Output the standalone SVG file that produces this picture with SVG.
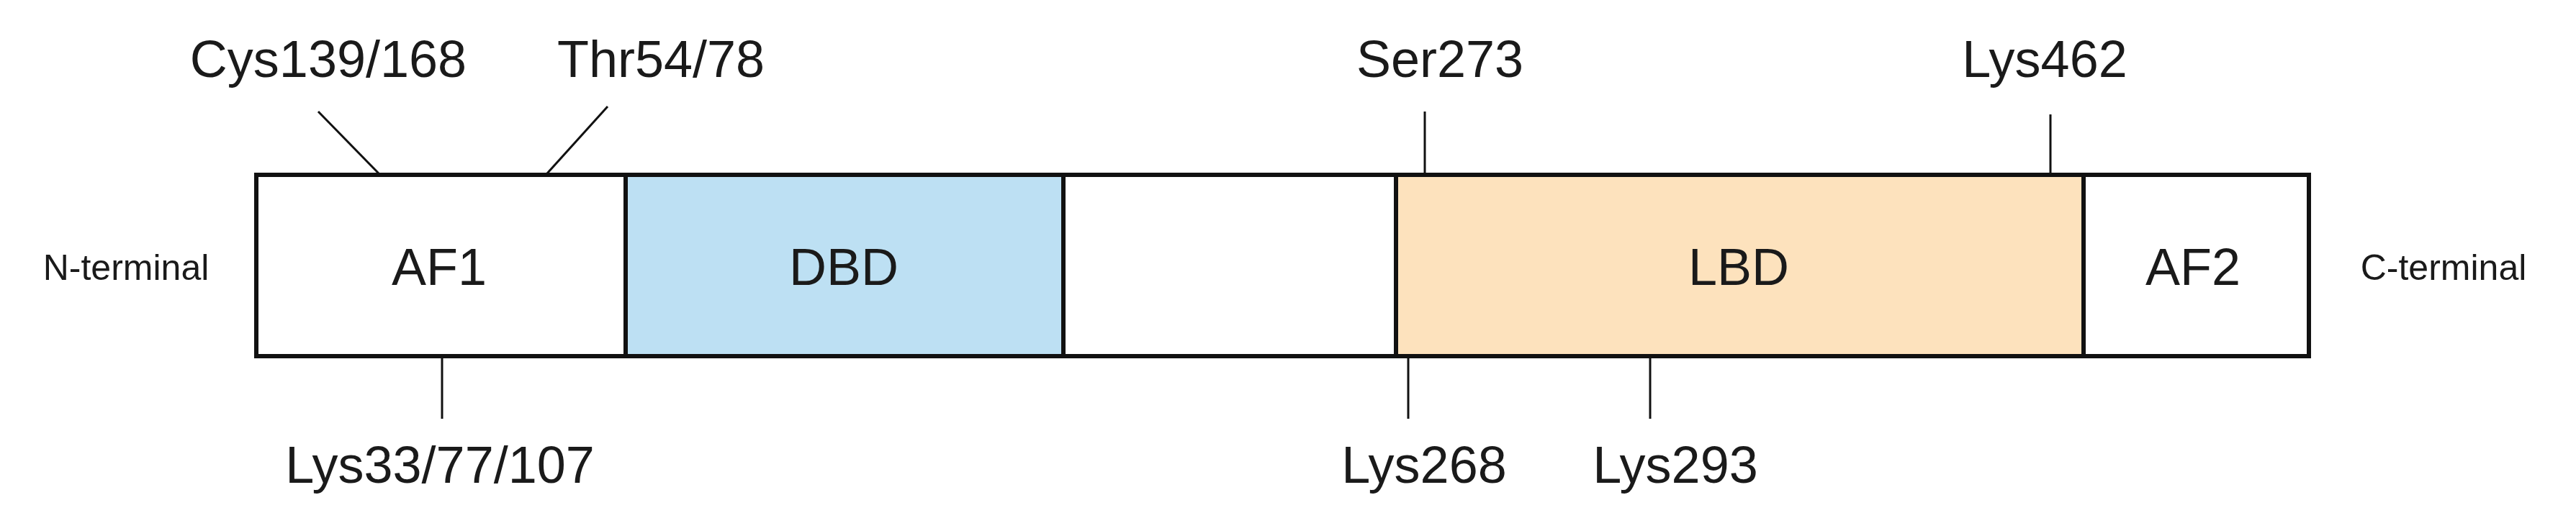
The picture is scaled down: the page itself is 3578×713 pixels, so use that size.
<svg xmlns="http://www.w3.org/2000/svg" width="3578" height="713" viewBox="0 0 3578 713">
<style>
.b{stroke:#111;stroke-width:6}
.t{font-family:"Liberation Sans",Arial,sans-serif;fill:#1a1a1a;text-anchor:middle}
.s{font-size:72px}
.d{font-size:72px}
.e{font-size:50px}
.l{stroke:#111;stroke-width:3;fill:none}
</style>
<rect width="3578" height="713" fill="#fff"/>
<g id="AF1"><rect class="b" x="356" y="243" width="513" height="252" fill="#fff"/><text class="t d" x="610" y="396">AF1</text></g>
<g id="DBD"><rect class="b" x="869" y="243" width="608" height="252" fill="#bde0f3"/><text class="t d" x="1172" y="396">DBD</text></g>
<g id="hinge"><rect class="b" x="1477" y="243" width="462" height="252" fill="#fff"/></g>
<g id="LBD"><rect class="b" x="1939" y="243" width="955" height="252" fill="#fde2bd"/><text class="t d" x="2415" y="396">LBD</text></g>
<g id="AF2"><rect class="b" x="2894" y="243" width="313" height="252" fill="#fff"/><text class="t d" x="3046" y="396">AF2</text></g>
<g id="labels">
<text class="t e" x="175" y="389">N-terminal</text>
<text class="t e" x="3394" y="389">C-terminal</text>
<text class="t s" x="456" y="107">Cys139/168</text>
<text class="t s" x="918" y="107">Thr54/78</text>
<text class="t s" x="2000" y="107">Ser273</text>
<text class="t s" x="2840" y="107">Lys462</text>
<text class="t s" x="611" y="671">Lys33/77/107</text>
<text class="t s" x="1978" y="671">Lys268</text>
<text class="t s" x="2327" y="671">Lys293</text>
</g>
<g id="connectors">
<line class="l" x1="442" y1="155" x2="526" y2="241"/>
<line class="l" x1="844" y1="148" x2="760" y2="241"/>
<line class="l" x1="1979" y1="155" x2="1979" y2="241"/>
<line class="l" x1="2848" y1="159" x2="2848" y2="241"/>
<line class="l" x1="614" y1="498" x2="614" y2="582"/>
<line class="l" x1="1956" y1="498" x2="1956" y2="582"/>
<line class="l" x1="2292" y1="498" x2="2292" y2="582"/>
</g>
</svg>
